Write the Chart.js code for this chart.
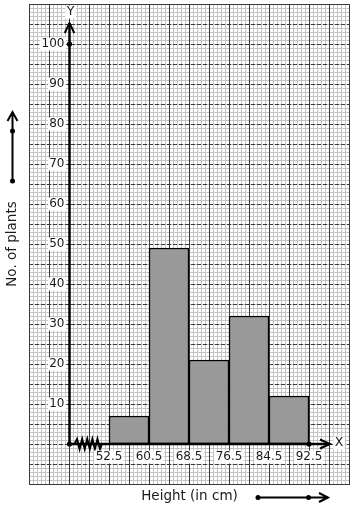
<!DOCTYPE html>
<html>
<head>
<meta charset="utf-8">
<script src="https://cdn.jsdelivr.net/npm/chart.js@4"></script>
<style>
html,body{margin:0;padding:0;background:#fff;}
canvas{display:block;}
</style>
</head>
<body>
<canvas id="c" width="354" height="510"></canvas>
<script>
// ---- data ----
const binEdges = [52.5, 60.5, 68.5, 76.5, 84.5, 92.5];
const counts = [7, 49, 21, 32, 12];
const yTickValues = [10, 20, 30, 40, 50, 60, 70, 80, 90, 100];
const xTickLabels = ["52.5", "60.5", "68.5", "76.5", "84.5", "92.5"];
const xTitle = "Height (in cm)";
const yTitle = "No. of plants";
const xAxisLetter = "X";
const yAxisLetter = "Y";

const X_MIN = 36.5, X_MAX = 100.5, Y_MIN = -10, Y_MAX = 110;
const AXIS_X0 = 44.5; // x value where the (kinked) y-axis stands

const FONT = "'DejaVu Sans', sans-serif";

function crisp(p){ return Math.round(p) + 0.5; }

function labelWithBg(ctx, text, x, y, align){
  const w = ctx.measureText(text).width;
  let left = align === 'right' ? x - w : (align === 'center' ? x - w/2 : x);
  ctx.fillStyle = '#fff';
  ctx.fillRect(left - 1.5, y - 6.5, w + 3, 13);
  ctx.fillStyle = '#1a1a1a';
  ctx.textAlign = align;
  ctx.textBaseline = 'middle';
  ctx.fillText(text, x, y);
}

function dot(ctx, x, y, r){
  ctx.beginPath();
  ctx.arc(x, y, r, 0, Math.PI*2);
  ctx.fillStyle = '#000';
  ctx.fill();
}

const graphPaper = {
  id: 'graphPaper',
  beforeDatasetsDraw(chart){
    const ctx = chart.ctx;
    const xs = chart.scales.x, ys = chart.scales.y;
    const ca = chart.chartArea;
    ctx.save();
    ctx.fillStyle = '#fff';
    ctx.fillRect(0, 0, chart.width, chart.height);
    // minor lines
    ctx.strokeStyle = '#c4c4c4';
    ctx.lineWidth = 1;
    ctx.beginPath();
    for (let i = 0; i <= 80; i++){
      const px = crisp(xs.getPixelForValue(X_MIN + i*0.8));
      ctx.moveTo(px, ca.top); ctx.lineTo(px, ca.bottom);
    }
    for (let i = 0; i <= 120; i++){
      const py = crisp(ys.getPixelForValue(Y_MIN + i));
      ctx.moveTo(ca.left, py); ctx.lineTo(ca.right, py);
    }
    ctx.stroke();
    // major vertical lines (solid)
    ctx.strokeStyle = '#3a3a3a';
    ctx.beginPath();
    for (let i = 0; i <= 16; i++){
      const px = crisp(xs.getPixelForValue(X_MIN + i*4));
      ctx.moveTo(px, ca.top); ctx.lineTo(px, ca.bottom);
    }
    ctx.stroke();
    // major horizontal lines (dashed)
    ctx.setLineDash([4, 2]);
    ctx.beginPath();
    for (let i = 0; i <= 24; i++){
      const py = crisp(ys.getPixelForValue(Y_MIN + i*5));
      ctx.moveTo(ca.left, py); ctx.lineTo(ca.right, py);
    }
    ctx.stroke();
    ctx.setLineDash([]);
    // border
    ctx.strokeStyle = '#3a3a3a';
    ctx.strokeRect(crisp(ca.left), crisp(ca.top), Math.round(ca.right-ca.left), Math.round(ca.bottom-ca.top));
    ctx.restore();
  },
  afterDatasetsDraw(chart){
    const ctx = chart.ctx;
    const xs = chart.scales.x, ys = chart.scales.y;
    ctx.save();
    const ox = xs.getPixelForValue(AXIS_X0) + 0.5;
    const oy = ys.getPixelForValue(0);
    const topY = ys.getPixelForValue(Y_MAX) + 19;
    const rightX = xs.getPixelForValue(binEdges[binEdges.length-1]) + 21;
    ctx.strokeStyle = '#000';
    ctx.lineWidth = 2.5;
    ctx.lineCap = 'butt';
    // y axis
    ctx.beginPath();
    ctx.moveTo(ox, oy); ctx.lineTo(ox, topY);
    ctx.stroke();
    ctx.lineWidth = 2;
    ctx.beginPath();
    ctx.moveTo(ox - 4.8, topY + 10); ctx.lineTo(ox, topY); ctx.lineTo(ox + 4.8, topY + 10);
    ctx.stroke();
    // x axis
    ctx.lineWidth = 2.5;
    ctx.beginPath();
    ctx.moveTo(ox, oy); ctx.lineTo(rightX, oy);
    ctx.stroke();
    ctx.lineWidth = 2;
    ctx.beginPath();
    ctx.moveTo(rightX - 10, oy - 4.5); ctx.lineTo(rightX, oy); ctx.lineTo(rightX - 10, oy + 4.5);
    ctx.stroke();
    // zigzag (kink)
    ctx.lineWidth = 2;
    ctx.beginPath();
    const zx0 = ox + 5, zx1 = xs.getPixelForValue(binEdges[0]) - 9;
    const n = 10;
    ctx.moveTo(zx0, oy);
    for (let i = 1; i <= n; i++){
      const px = zx0 + (zx1 - zx0) * i / n;
      ctx.lineTo(px, i % 2 ? oy - 5 : oy + 5);
    }
    ctx.lineTo(zx1 + 2, oy);
    ctx.stroke();
    // dots
    dot(ctx, ox, oy, 2.6);
    dot(ctx, ox, ys.getPixelForValue(100), 2.6);
    dot(ctx, xs.getPixelForValue(binEdges[binEdges.length-1]), oy, 2.6);

    // tick labels
    ctx.font = '12px ' + FONT;
    yTickValues.forEach(v => {
      labelWithBg(ctx, String(v), ox - 5, ys.getPixelForValue(v), 'right');
    });
    binEdges.forEach((v, i) => {
      labelWithBg(ctx, xTickLabels[i], xs.getPixelForValue(v), oy + 13, 'center');
    });
    ctx.font = '12.5px ' + FONT;
    labelWithBg(ctx, yAxisLetter, ox + 1, 12, 'center');
    labelWithBg(ctx, xAxisLetter, rightX + 9, oy - 1, 'center');

    // axis titles
    ctx.fillStyle = '#1a1a1a';
    ctx.font = '13.5px ' + FONT;
    ctx.textAlign = 'center';
    ctx.textBaseline = 'middle';
    ctx.fillText(xTitle, 189.5, 496);
    ctx.save();
    ctx.translate(12.5, 244);
    ctx.rotate(-Math.PI/2);
    ctx.fillText(yTitle, 0, 0);
    ctx.restore();

    // decorative direction arrows
    ctx.strokeStyle = '#000';
    ctx.lineWidth = 2;
    ctx.beginPath();
    ctx.moveTo(12.5, 181); ctx.lineTo(12.5, 113);
    ctx.moveTo(7.5, 121); ctx.lineTo(12.5, 112); ctx.lineTo(17.5, 121);
    ctx.stroke();
    dot(ctx, 12.5, 181, 2.5);
    dot(ctx, 12.5, 131, 2.5);
    ctx.beginPath();
    ctx.moveTo(258, 497.5); ctx.lineTo(327, 497.5);
    ctx.moveTo(319, 493); ctx.lineTo(328, 497.5); ctx.lineTo(319, 502);
    ctx.stroke();
    dot(ctx, 258, 497.5, 2.5);
    dot(ctx, 308.5, 497.5, 2.5);
    ctx.restore();
  }
};

const barData = counts.map((c, i) => ({ x: (binEdges[i] + binEdges[i+1]) / 2, y: c }));

new Chart(document.getElementById('c'), {
  type: 'bar',
  data: {
    datasets: [{
      data: barData,
      backgroundColor: '#999999',
      borderColor: '#000000',
      borderWidth: 1.5,
      borderSkipped: false,
      barPercentage: 1,
      categoryPercentage: 1
    }]
  },
  options: {
    responsive: false,
    animation: false,
    devicePixelRatio: 1,
    layout: { padding: { left: 29, right: 5, top: 4, bottom: 26 } },
    plugins: { legend: { display: false }, tooltip: { enabled: false }, title: { display: false } },
    scales: {
      x: { type: 'linear', min: X_MIN, max: X_MAX, display: false, offset: false },
      y: { type: 'linear', min: Y_MIN, max: Y_MAX, display: false }
    }
  },
  plugins: [graphPaper]
});
</script>
</body>
</html>
